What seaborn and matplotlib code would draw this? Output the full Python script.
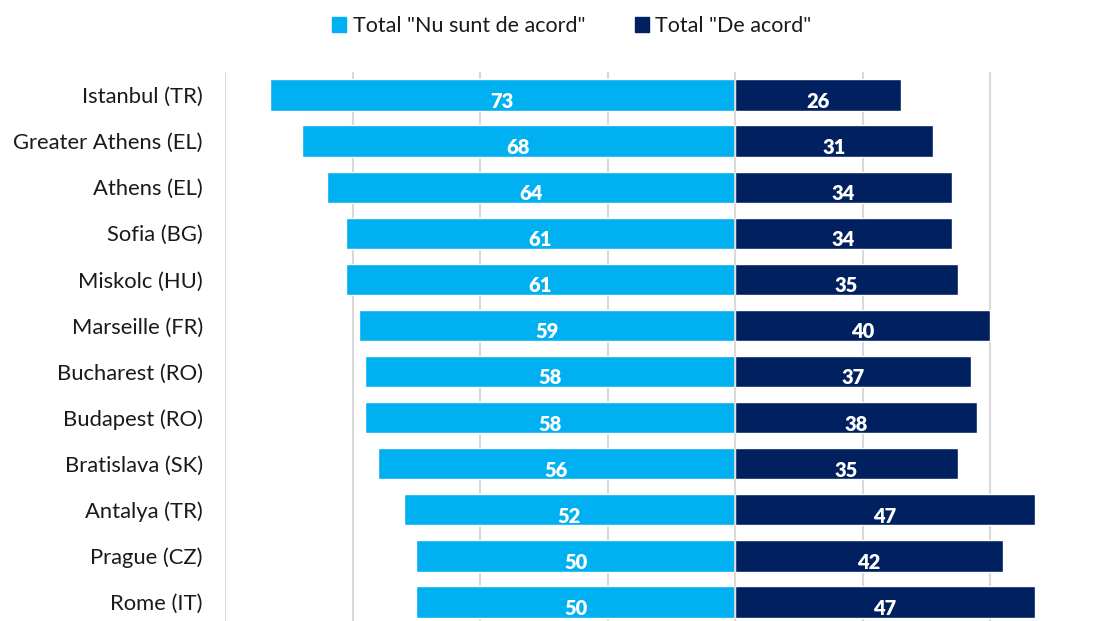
import pandas as pd
import numpy as np
import matplotlib.pyplot as plt
import seaborn as sns
from matplotlib.patches import Patch

# Data
cities = ["Istanbul (TR)", "Greater Athens (EL)", "Athens (EL)", "Sofia (BG)",
          "Miskolc (HU)", "Marseille (FR)", "Bucharest (RO)", "Budapest (RO)",
          "Bratislava (SK)", "Antalya (TR)", "Prague (CZ)", "Rome (IT)"]
disagree = [73, 68, 64, 61, 61, 59, 58, 58, 56, 52, 50, 50]
agree = [26, 31, 34, 34, 35, 40, 37, 38, 35, 47, 42, 47]

light_blue = "#00B0F0"
navy = "#002060"

df = pd.DataFrame({"City": cities, "Disagree": disagree, "Agree": agree})
df["DisagreeNeg"] = -df["Disagree"]

sns.set_style("white")
plt.rcParams["font.family"] = ["Lato", "DejaVu Sans"]

fig = plt.figure(figsize=(11.03, 6.21), dpi=100)
ax = fig.add_axes([225 / 1103, -4 / 621, 892.5 / 1103, 553 / 621])

sns.barplot(data=df, x="DisagreeNeg", y="City", color=light_blue, width=0.68,
            saturation=1, ax=ax, zorder=2)
sns.barplot(data=df, x="Agree", y="City", color=navy, width=0.68,
            saturation=1, ax=ax, zorder=2)

ax.set_xlim(-80, 60)
ax.set_ylim(11.5, -0.5)
for gx in range(-80, 61, 20):
    ax.axvline(gx, color="#D9D9D9", lw=1.5, zorder=1)
ax.axvline(0, color="#D9D9D9", lw=1.2, zorder=3)

for i, (d, a) in enumerate(zip(disagree, agree)):
    ax.text(-d / 2, i + 0.14, str(d), color="white", fontsize=14.5,
            fontweight="heavy", ha="center", va="center", zorder=4)
    ax.text(a / 2, i + 0.14, str(a), color="white", fontsize=14.5,
            fontweight="heavy", ha="center", va="center", zorder=4)

ax.set_xlabel("")
ax.set_ylabel("")
ax.set_xticks([])
ax.tick_params(axis="y", length=0, pad=16, labelsize=15.8, labelcolor="#1a1a1a")
for s in ax.spines.values():
    s.set_visible(False)

handles = [Patch(color=light_blue, label='Total "Nu sunt de acord"'),
           Patch(color=navy, label='Total "De acord"')]
leg = fig.legend(handles=handles, loc="center", bbox_to_anchor=(572 / 1103, 1 - 26 / 621),
                 ncol=2, frameon=False, fontsize=15.5, handlelength=0.65, handleheight=0.65,
                 handletextpad=0.3, columnspacing=2.3)
for t in leg.get_texts():
    t.set_color("#1a1a1a")

fig.savefig("out.png", dpi=100)
